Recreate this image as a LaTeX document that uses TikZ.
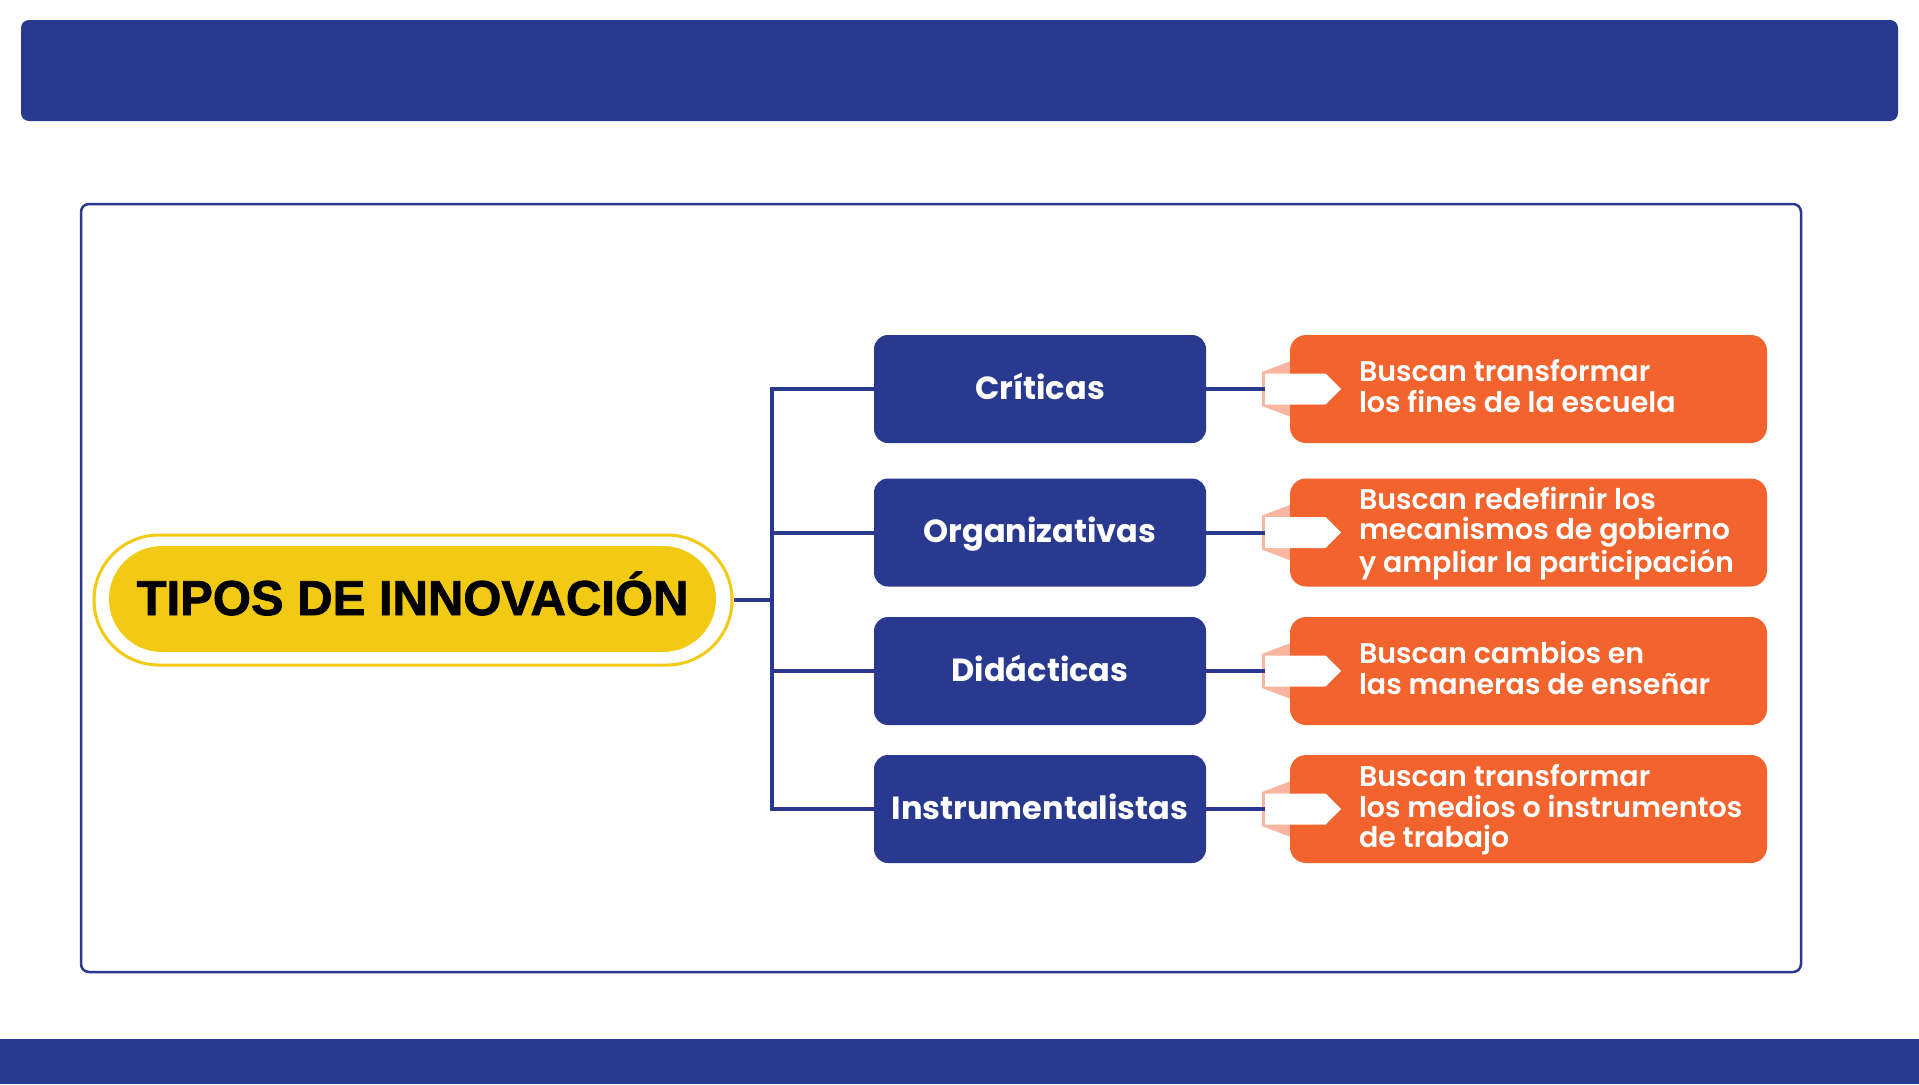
\documentclass[tikz,border=0pt]{standalone}
\usepackage{fontspec}
\usetikzlibrary{shapes.symbols,calc}
\newfontfamily\headfont{Liberation Sans}[BoldFeatures={FakeBold=1.6}]
\IfFontExistsTF{Poppins Bold}{\newfontfamily\popbold{Poppins Bold}}{\newfontfamily\popbold{Poppins}[FakeBold=2]}
\IfFontExistsTF{Poppins SemiBold}{\newfontfamily\popsemi{Poppins SemiBold}}{\IfFontExistsTF{Poppins Medium}{\newfontfamily\popsemi{Poppins Medium}}{\newfontfamily\popsemi{Poppins}}}
\definecolor{navy}{RGB}{40,57,143}
\definecolor{orangec}{RGB}{242,99,45}
\definecolor{yellowc}{RGB}{242,202,20}
\definecolor{peach}{RGB}{248,182,160}
\tikzset{
  catbox/.style={fill=navy, rounded corners=14pt, minimum width=332pt, minimum height=108pt, inner sep=0pt, text=white, font=\popbold\fontsize{32}{38}\selectfont, text height=22.5pt, text depth=2.5pt},
  descbox/.style={fill=orangec, rounded corners=16pt, minimum width=477pt, minimum height=108pt, inner sep=0pt},
  desctext/.style={anchor=west, inner sep=0pt, align=left, text=white, font=\popsemi\fontsize{28.5}{30.6}\selectfont},
  tabshape/.style={signal, signal to=east, signal pointer angle=90, fill=white, minimum width=76pt, minimum height=31pt, inner sep=0pt, anchor=west},
  link/.style={draw=navy, line width=4pt}
}
\begin{document}
\begin{tikzpicture}[x=1pt,y=-1pt]
\useasboundingbox (0,0) rectangle (1919,1084);
\fill[white] (0,0) rectangle (1919,1084);
% bars and frame
\fill[navy, rounded corners=8pt] (21,20) rectangle (1898,121);
\fill[navy] (0,1039) rectangle (1919,1084);
\draw[navy, line width=2.5pt, rounded corners=8pt] (81,204) rectangle (1801,972);
% root
\node[draw=yellowc, line width=3pt, rounded corners=65pt, minimum width=638pt, minimum height=130pt, inner sep=0pt] (rootring) at (413,600) {};
\node[fill=yellowc, rounded corners=53pt, minimum width=607pt, minimum height=106pt, inner sep=0pt, font=\headfont\bfseries\fontsize{49}{55}\selectfont, text height=35pt, text depth=3pt] (root) at (412.5,599) {TIPOS DE INNOVACIÓN};
% rows
\foreach \i/\c/\lab in {1/389/Críticas,2/532.5/Organizativas,3/671/Didácticas,4/809/Instrumentalistas}{
  \fill[peach] (1262,\c-17) -- (1291,\c-28) -- (1291,\c+28) -- (1262,\c+17) -- cycle;
  \node[catbox] (cat\i) at (1040,\c) {\lab};
  \node[descbox] (desc\i) at (1528.5,\c) {};
  \node[tabshape] (tab\i) at (1265,\c) {};
  \draw[link] (cat\i.east) -- (tab\i.west);
}
\node[desctext] (txt1) at ([xshift=69pt,yshift=-1pt]desc1.west) {\rule{0pt}{22pt}Buscan transformar\\los fines de la escuela\rule[-8pt]{0pt}{1pt}};
\node[desctext] (txt2) at ([xshift=69pt,yshift=-1pt]desc2.west) {\rule{0pt}{22pt}Buscan redefirnir los\\mecanismos de gobierno\\y ampliar la participación\rule[-8pt]{0pt}{1pt}};
\node[desctext] (txt3) at ([xshift=69pt,yshift=-1pt]desc3.west) {\rule{0pt}{22pt}Buscan cambios en\\las maneras de enseñar\rule[-8pt]{0pt}{1pt}};
\node[desctext] (txt4) at ([xshift=69pt,yshift=-1pt]desc4.west) {\rule{0pt}{22pt}Buscan transformar\\los medios o instrumentos\\de trabajo\rule[-8pt]{0pt}{1pt}};
% tree
\coordinate (j) at (772,600);
\draw[link] (rootring.east) -- (rootring.east -| j);
\draw[link] (cat1.west) -- (j |- cat1) -- (j |- cat4) -- (cat4.west);
\draw[link] (j |- cat2) -- (cat2.west);
\draw[link] (j |- cat3) -- (cat3.west);
\end{tikzpicture}
\end{document}
